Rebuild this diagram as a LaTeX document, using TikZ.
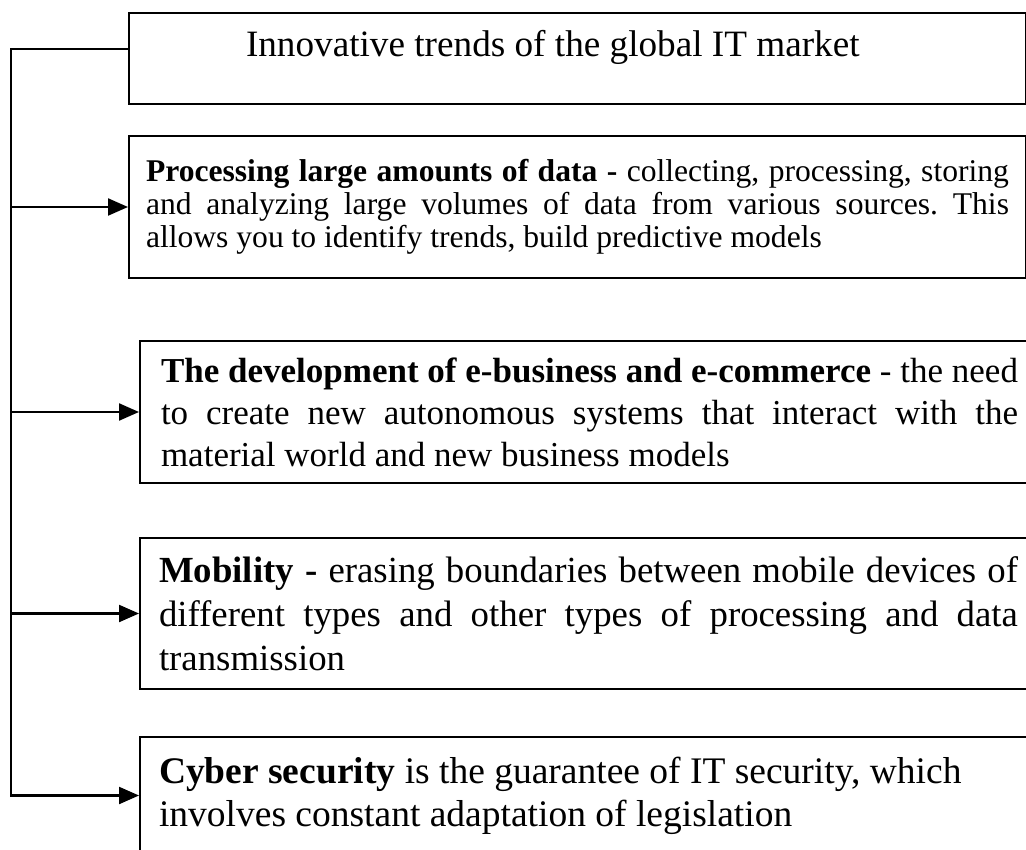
\documentclass[tikz,border=0pt]{standalone}
\usepackage{fontspec}
\setmainfont{Liberation Serif}
\usetikzlibrary{arrows.meta}
\tolerance=9999
\hyphenpenalty=10000
\hbadness=10000
\frenchspacing
\begin{document}
\begin{tikzpicture}[
        x = 1pt, y = -1pt, % one unit per pixel, y going down
        line width = 2pt, % line style
      ]

      \tikzstyle{trend}=[rectangle,draw=black,anchor=north west,inner ysep=0pt]
      \tikzstyle{wire}=[draw=black,line width=2.2pt]
      \tikzstyle{feed}=[wire,-{Triangle[length=20pt,width=17pt]}] % arrow head style

      \useasboundingbox (0,0) rectangle (1026,850);
      \clip (0,0) rectangle (1026,850);

      \node[trend, text width=663pt, inner xsep=117pt, text height=44pt, text depth=47pt,
            align=justify, font=\fontsize{37.2}{44}\selectfont] (title) at (128,12)
            {Innovative trends of the global IT market};
      \node[trend, text width=863pt, inner xsep=17pt, minimum height=142pt,
            align=justify, font=\fontsize{31.6}{33}\selectfont] (data) at (128,135)
            {\textbf{Processing large amounts of data -} collecting, processing, storing\linebreak
             and analyzing large volumes of data from various sources. This\linebreak
             allows you to identify trends, build predictive models};
      \node[trend, text width=857pt, inner xsep=21pt, minimum height=142pt,
            align=justify, font=\fontsize{35}{42}\selectfont] (ebiz) at (139,340)
            {\textbf{The development of e-business and e-commerce} - the need\linebreak
             to create new autonomous systems that interact with the\linebreak
             material world and new business models};
      \node[trend, text width=859pt, inner xsep=19pt, minimum height=151pt,
            align=justify, font=\fontsize{36.8}{44}\selectfont] (mobile) at (139,537)
            {\textbf{Mobility -} erasing boundaries between mobile devices of\linebreak
             different types and other types of processing and data\linebreak
             transmission};
      \node[trend, text width=859pt, inner xsep=19pt, minimum height=117pt,
            align=justify, font=\fontsize{37.5}{43}\selectfont] (cyber) at (139,736)
            {\textbf{Cyber security} is the guarantee of IT security, which\newline
             involves constant adaptation of legislation};

      \coordinate (trunk) at (11,49);

      \draw[feed] (title.west |- trunk) -- (trunk) |- (cyber.west);
      \foreach \n in {data,ebiz,mobile}
        \draw[feed] (trunk |- \n.west) -- (\n.west);

    \end{tikzpicture}
\end{document}
